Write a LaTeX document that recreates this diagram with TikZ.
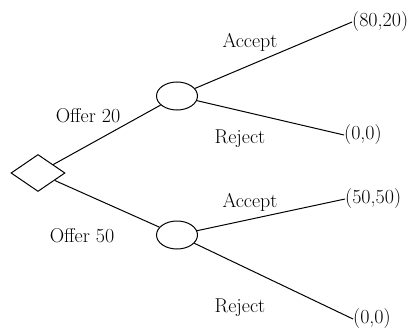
\documentclass[tikz,border=0pt]{standalone}
\usetikzlibrary{shapes.geometric}
\begin{document}
\begin{tikzpicture}[x=1pt,y=-1pt,
  every node/.style={font=\fontsize{20}{24}\selectfont},
  decision/.style={draw,line width=1pt,diamond,aspect=1.46,minimum width=54pt,minimum height=37pt,inner sep=0pt},
  chance/.style={draw,line width=1pt,ellipse,minimum width=41pt,minimum height=28pt,inner sep=0pt},
  payoff/.style={anchor=west,inner sep=0pt},
  branch/.style={line width=1pt},
  lbl/.style={inner sep=0pt}]
\useasboundingbox (0,0) rectangle (417,329);
\node[decision] (d) at (38,173) {};
\node[chance] (c1) at (177,96) {};
\node[chance] (c2) at (177,235) {};
\node[payoff] (p1) at (352,22) {(80,20)};
\node[payoff] (p2) at (344,135) {(0,0)};
\node[payoff] (p3) at (345,199) {(50,50)};
\node[payoff] (p4) at (353,319) {(0,0)};
\draw[branch] (d) -- (c1);
\draw[branch] (d) -- (c2);
\draw[branch] (c1) -- (p1.west);
\draw[branch] (c1) -- (p2.west);
\draw[branch] (c2) -- (p3.west);
\draw[branch] (c2) -- (p4.west);
\node[lbl] (o20) at (88,116) {Offer 20};
\node[lbl] (o50) at (82,236) {Offer 50};
\node[lbl] (a1) at (250,42) {Accept};
\node[lbl] (r1) at (240,139) {Reject};
\node[lbl] (a2) at (250,202) {Accept};
\node[lbl] (r2) at (240,308) {Reject};
\end{tikzpicture}
\end{document}
